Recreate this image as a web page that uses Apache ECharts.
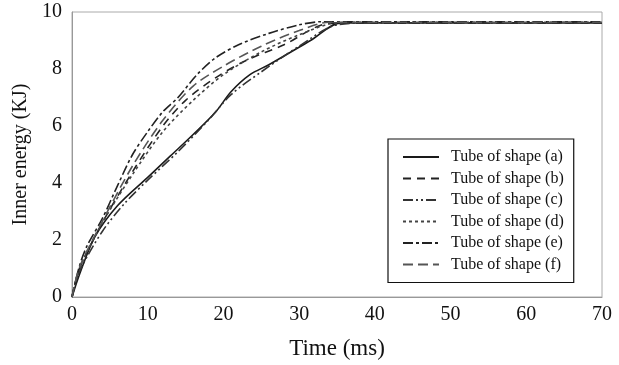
<!DOCTYPE html>
<html>
<head>
<meta charset="utf-8">
<script src="https://cdn.jsdelivr.net/npm/echarts@6/dist/echarts.min.js"></script>
<style>
  html, body { margin: 0; padding: 0; background: #fff; }
  #chart { width: 619px; height: 365px; }
</style>
</head>
<body>
<div id="chart"></div>
<script>
// time (ms), inner energy (KJ)
const shapeA = [[0,0],[1,0.8],[3,2.1],[6,3.2],[10,4.2],[13,4.95],[16,5.7],[19,6.5],[21,7.2],[23.5,7.8],[26,8.15],[31.5,9.0],[35.5,9.62],[40,9.62],[50,9.62],[60,9.62],[70,9.62]]
const shapeB = [[0,0],[1,1.0],[4,2.6],[8,4.4],[12,6.0],[15,6.9],[19,7.7],[23,8.3],[28,8.85],[34,9.6],[40,9.62],[50,9.62],[60,9.62],[70,9.62]]
const shapeC = [[0,0],[1,0.9],[4,2.3],[7,3.3],[10,4.1],[14,5.1],[18,6.2],[21,7.1],[25,7.9],[30,8.8],[35,9.55],[40,9.62],[50,9.62],[60,9.62],[70,9.62]]
const shapeD = [[0,0],[1,1.0],[4,2.6],[8,4.3],[12,5.8],[16,6.9],[20,7.8],[25,8.6],[30,9.2],[35,9.62],[40,9.64],[50,9.64],[60,9.64],[70,9.64]]
const shapeE = [[0,0],[1,1.1],[2,1.8],[4,2.75],[6,3.9],[8,5.0],[10,5.8],[12,6.5],[14,7.0],[16.5,7.8],[19,8.4],[22,8.85],[26,9.25],[30,9.55],[33,9.66],[40,9.66],[50,9.66],[60,9.66],[70,9.66]]
const shapeF = [[0,0],[1,1.05],[4,2.65],[8,4.6],[12,6.2],[16,7.4],[20,8.1],[25,8.8],[30,9.35],[34,9.64],[40,9.64],[50,9.64],[60,9.64],[70,9.64]]

const names  = ['Tube of shape (a)','Tube of shape (b)','Tube of shape (c)','Tube of shape (d)','Tube of shape (e)','Tube of shape (f)']
const curves = [shapeA, shapeB, shapeC, shapeD, shapeE, shapeF]
const dashes = ['solid', [8,6], [10,3,2,3,2,3], [3,3], [10,3,3,3], [10,5]]
const colors = ['#1a1a1a','#222','#333','#444','#222','#555']

const font = '"Liberation Serif", "Times New Roman", serif'
const chart = echarts.init(document.getElementById('chart'))

chart.setOption({
  backgroundColor: '#fff',
  animation: false,
  grid: { left: 72, right: 17, top: 12, bottom: 67, show: true, borderColor: '#aaa', borderWidth: 1 },
  legend: {
    orient: 'vertical',
    left: 388, top: 139,
    padding: [10, 10, 10, 14],
    borderColor: '#111', borderWidth: 1.2,
    itemWidth: 36, itemHeight: 10, itemGap: 5.5,
    itemStyle: { color: 'transparent', borderWidth: 0 },
    textStyle: { fontFamily: font, fontSize: 16, color: '#111', padding: [0, 0, 0, 7] },
    data: names
  },
  xAxis: {
    type: 'value', min: 0, max: 70, interval: 10,
    name: 'Time (ms)', nameLocation: 'middle', nameGap: 40,
    nameTextStyle: { fontFamily: font, fontSize: 23, color: '#111' },
    axisLine: { lineStyle: { color: '#999' } },
    axisTick: { show: false },
    axisLabel: { fontFamily: font, fontSize: 20, color: '#111', margin: 8 },
    splitLine: { show: false }
  },
  yAxis: {
    type: 'value', min: 0, max: 10, interval: 2,
    name: 'Inner energy (KJ)', nameLocation: 'middle', nameGap: 40, nameRotate: 90,
    nameTextStyle: { fontFamily: font, fontSize: 20, color: '#111' },
    axisLine: { show: true, lineStyle: { color: '#999' } },
    axisTick: { show: false },
    axisLabel: { fontFamily: font, fontSize: 20, color: '#111', margin: 10 },
    splitLine: { show: false }
  },
  series: curves.map((d, i) => ({
    name: names[i], type: 'line', data: d,
    smooth: 0.3, symbol: 'none',
    lineStyle: { color: colors[i], width: 1.6, type: dashes[i] },
    itemStyle: { color: colors[i] }
  }))
})
</script>
</body>
</html>
